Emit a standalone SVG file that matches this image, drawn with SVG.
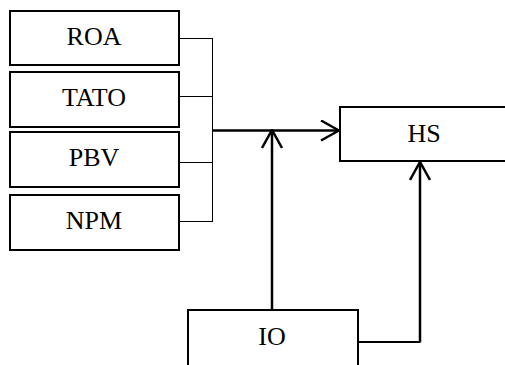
<svg xmlns="http://www.w3.org/2000/svg" width="505" height="365" viewBox="0 0 505 365">
<style>
.box{fill:#fff;stroke:#000;stroke-width:2}
.lbl{font-family:"Liberation Serif","Times New Roman",serif;font-size:26px;fill:#000;text-anchor:middle}
.thin{fill:none;stroke:#000;stroke-width:1}
.thick{fill:none;stroke:#000;stroke-width:2.5}
</style>
<defs>
<marker id="arr" viewBox="0 0 20 22" refX="19" refY="11" markerWidth="20" markerHeight="22" markerUnits="userSpaceOnUse" orient="auto">
<path d="M1,1 L19,11 L1,21" fill="none" stroke="#000" stroke-width="2.5"/>
</marker>
</defs>
<rect width="505" height="365" fill="#fff"/>
<g id="ROA"><rect class="box" x="10" y="11" width="169" height="54"/><text class="lbl" x="94" y="45">ROA</text></g>
<g id="TATO"><rect class="box" x="10" y="72" width="169" height="55"/><text class="lbl" x="94" y="106">TATO</text></g>
<g id="PBV"><rect class="box" x="10" y="132" width="169" height="55"/><text class="lbl" x="94" y="166">PBV</text></g>
<g id="NPM"><rect class="box" x="10" y="195" width="169" height="55"/><text class="lbl" x="94" y="229">NPM</text></g>
<g id="HS"><path class="box" d="M507,107 L340,107 L340,161 L507,161"/><text class="lbl" x="424" y="142">HS</text></g>
<g id="IO"><path class="box" d="M188,367 L188,310 L358,310 L358,367"/><text class="lbl" x="272" y="345">IO</text></g>
<g id="connectors">
<path class="thin" d="M179,38.5 H212.5 M179,96.5 H212.5 M179,162.5 H212.5 M179,221.5 H212.5 M212.5,38 V222"/>
<path class="thick" d="M212,130.5 H339" marker-end="url(#arr)"/>
<path class="thick" d="M272,310 V130" marker-end="url(#arr)"/>
<path class="thin" d="M358,342 H420" style="stroke-width:2"/>
<path class="thick" d="M420,342.5 V162" marker-end="url(#arr)"/>
</g>
</svg>
